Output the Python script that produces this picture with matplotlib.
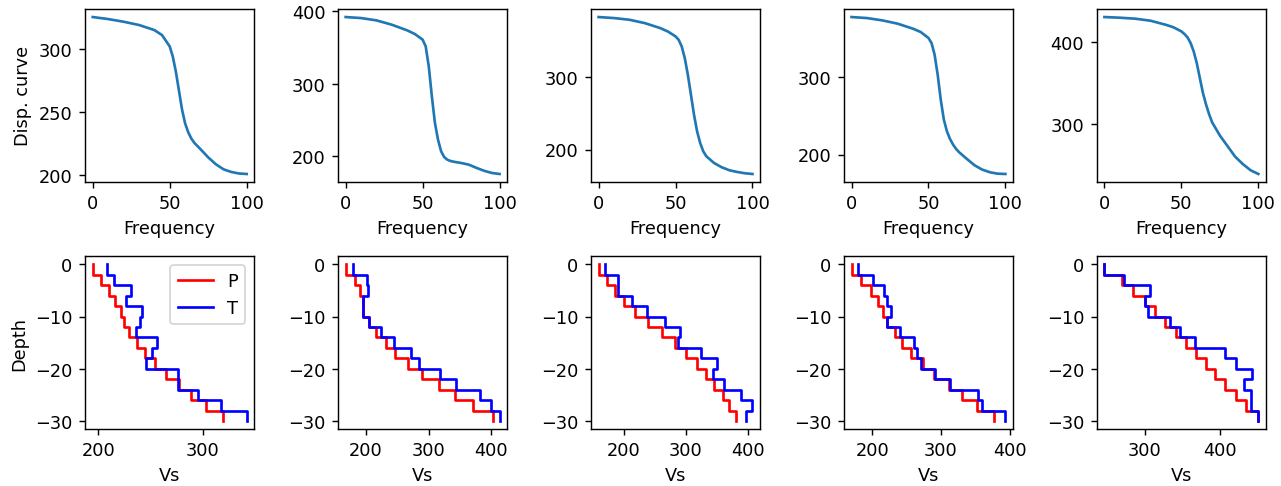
import numpy as np
import matplotlib
matplotlib.use("Agg")
import matplotlib.pyplot as plt

# Dispersion curves (frequency vs value)
freq = [0, 10, 20, 30, 40, 45, 50, 52, 54, 56, 58, 60, 62, 64, 66, 68, 70, 75, 80, 85, 90, 95, 100]
disp1 = [325.3, 323.7, 321.6, 319, 315, 311, 302, 294, 282, 267, 252, 241, 234, 229, 225.5, 223, 220.5, 214, 208.5, 204.5, 202.4, 201.2, 200.8]
disp2 = [392.2, 390.8, 387.6, 381.6, 373.8, 368.7, 361, 351.7, 324, 282.8, 246, 223, 207, 199, 195.4, 193.6, 192.6, 190.8, 188.5, 184, 180, 177, 175.6]
disp3 = [381.8, 380.4, 378.1, 373.5, 366.7, 362, 355.3, 350.7, 341.6, 325.6, 302.7, 275.4, 248, 225.2, 209.2, 197.8, 191, 181.8, 175.9, 171.8, 169.5, 167.7, 166.7]
disp4 = [378, 376.7, 373.7, 369.4, 362.9, 358.6, 350.9, 344.4, 329.3, 303.4, 271, 245.3, 230.2, 220.3, 213, 207.3, 203, 194.4, 186.2, 180.6, 177.2, 175.4, 175]
disp5 = [430.5, 429.7, 428.5, 426, 421, 417.9, 413, 409.8, 405.7, 398.8, 388.6, 374.4, 356, 338, 324, 312, 302, 286, 273, 260, 251, 243.5, 239]

# Layer boundaries (depth) and Vs profiles
depth_edges = [0, -2, -4, -6, -8, -10, -12, -14, -16, -18, -20, -22, -24, -26, -28, -30]
P1 = [194.6, 203, 209.8, 215.8, 221.5, 224.7, 229.4, 236.7, 244.6, 254, 265.2, 277, 289, 303, 319.6]
T1 = [208.2, 215.2, 231, 226.9, 242, 239.9, 236.4, 256.6, 251.6, 246.2, 276.3, 276.3, 295.9, 317.4, 342.4]
P2 = [168, 183, 191, 195, 195, 205, 217, 232, 247, 268, 290, 316, 342, 371, 403]
T2 = [179, 202, 204, 196, 196, 205, 224, 245, 272, 284, 318, 344, 382, 400, 413]
P3 = [160, 173.5, 186.7, 200, 218.6, 238.7, 262, 282, 300.8, 318.3, 332.6, 345.9, 359, 369.8, 380.4]
T3 = [171, 191, 191, 213, 237, 267, 290, 288, 325, 350, 343, 362, 388, 407, 396]
P4 = [170, 184, 198, 209, 216, 222, 233, 244, 257, 273.5, 290, 311, 331, 352, 376.8]
T4 = [180, 201, 217, 221, 227, 221, 240, 261, 265, 271, 291.3, 313, 354, 359, 393.7]
P5 = [245.8, 269.8, 284.4, 300, 313.3, 326.7, 342.2, 355.6, 368, 381.3, 393.3, 408, 422.2, 435.6, 452]
T5 = [245.8, 272, 306.7, 300, 304.4, 333.3, 347.6, 366.7, 406.7, 422.2, 443.6, 432.4, 442.2, 442.2, 452]

disps = [disp1, disp2, disp3, disp4, disp5]
Ps = [P1, P2, P3, P4, P5]
Ts = [T1, T2, T3, T4, T5]


def profile(vs, edges):
    x = np.repeat(np.asarray(vs, float), 2)
    e = np.asarray(edges, float)
    y = np.column_stack([e[:-1], e[1:]]).ravel()
    return x, y


fig, axes = plt.subplots(2, 5, figsize=(10, 3.8), dpi=128.1)
fig.subplots_adjust(left=0.0664, right=0.9883, top=0.9795, bottom=0.117,
                    wspace=0.494, hspace=0.432)
for i in range(5):
    ax = axes[0, i]
    ax.plot(freq, disps[i])
    ax.set_xlabel("Frequency")
    if i == 0:
        ax.set_ylabel("Disp. curve")
    ax = axes[1, i]
    x, y = profile(Ps[i], depth_edges)
    ax.plot(x, y, color="r", label="P")
    x, y = profile(Ts[i], depth_edges)
    ax.plot(x, y, color="b", label="T")
    ax.set_xlabel("Vs")
    if i == 0:
        ax.set_ylabel("Depth")
        ax.legend(loc="upper right")

fig.savefig("out.png", dpi=128.1)
